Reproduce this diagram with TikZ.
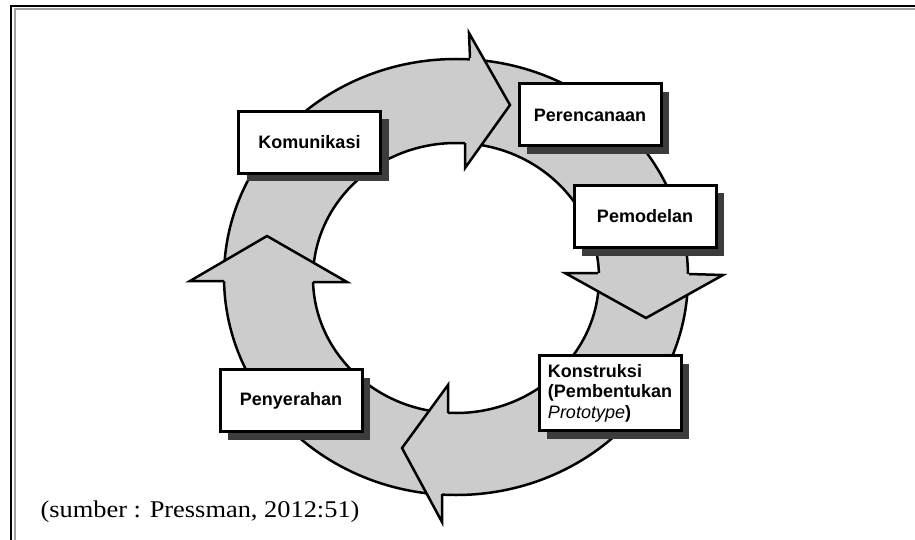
\documentclass[tikz,border=0pt]{standalone}
\usepackage{fontspec}
\usepackage{graphicx}
\setmainfont{Liberation Serif}
\setsansfont{Liberation Sans}
\usetikzlibrary{shadows}
\definecolor{ringgray}{HTML}{CCCCCC}
\definecolor{shadowgray}{HTML}{3C3C3C}
\definecolor{framegray}{HTML}{A0A0A0}
\tikzset{
  ringline/.style={line width=2.5pt, line join=miter},
  stagebox/.style={draw, fill=white, line width=3pt, minimum width=142pt,
    minimum height=62pt, inner sep=0pt,
    font=\sffamily\bfseries\fontsize{18}{20.5}\selectfont,
    drop shadow={shadow xshift=8pt, shadow yshift=-8pt, fill=shadowgray, opacity=1}}
}
\begin{document}
\begin{tikzpicture}[x=1pt,y=-1pt]
\useasboundingbox (0,0) rectangle (915,540);
\draw[line width=2pt] (11,540) -- (11,6) -- (915,6);
\draw[framegray, line width=2pt] (14.5,540) -- (14.5,9.5) -- (915,9.5);
\filldraw[ringline, fill=ringgray, even odd rule] (456,277) ellipse [x radius=232, y radius=218]
  (456,278) ellipse [x radius=143, y radius=135];
\fill[ringgray] (470,58) -- (469,33) -- (510,105) -- (465,168) -- (465,143) -- cycle;
\draw[ringline] (470,58) -- (469,33) -- (510,105) -- (465,168) -- (465,143);
\fill[ringgray] (598,273) -- (565,273) -- (646,318) -- (723,275) -- (689,274) -- cycle;
\draw[ringline] (598,273) -- (565,273) -- (646,318) -- (723,275) -- (689,274);
\fill[ringgray] (448,413) -- (448,385) -- (402,448) -- (442,522) -- (442,494) -- cycle;
\draw[ringline] (448,413) -- (448,385) -- (402,448) -- (442,522) -- (442,494);
\fill[ringgray] (224,281) -- (190,281) -- (267,236) -- (347,282) -- (313,282) -- cycle;
\draw[ringline] (224,281) -- (190,281) -- (267,236) -- (347,282) -- (313,282);
\node[stagebox] (komunikasi) at (309.5,142.5) {Komunikasi};
\node[stagebox] (perencanaan) at (590,115) {Perencanaan};
\node[stagebox] (pemodelan) at (645,216.5) {Pemodelan};
\node[stagebox, minimum height=75pt, align=left] (konstruksi) at (610,393)
  {Konstruksi\\(Pembentukan\\{\mdseries\itshape Prototype})};
\node[stagebox] (penyerahan) at (291,400.5) {Penyerahan};
\node[anchor=base west, font=\fontsize{24}{28}\selectfont] (sumber) at (37,517)
  {\scalebox{1.1}[1]{(sumber : Pressman, 2012:51)}};
\end{tikzpicture}
\end{document}
